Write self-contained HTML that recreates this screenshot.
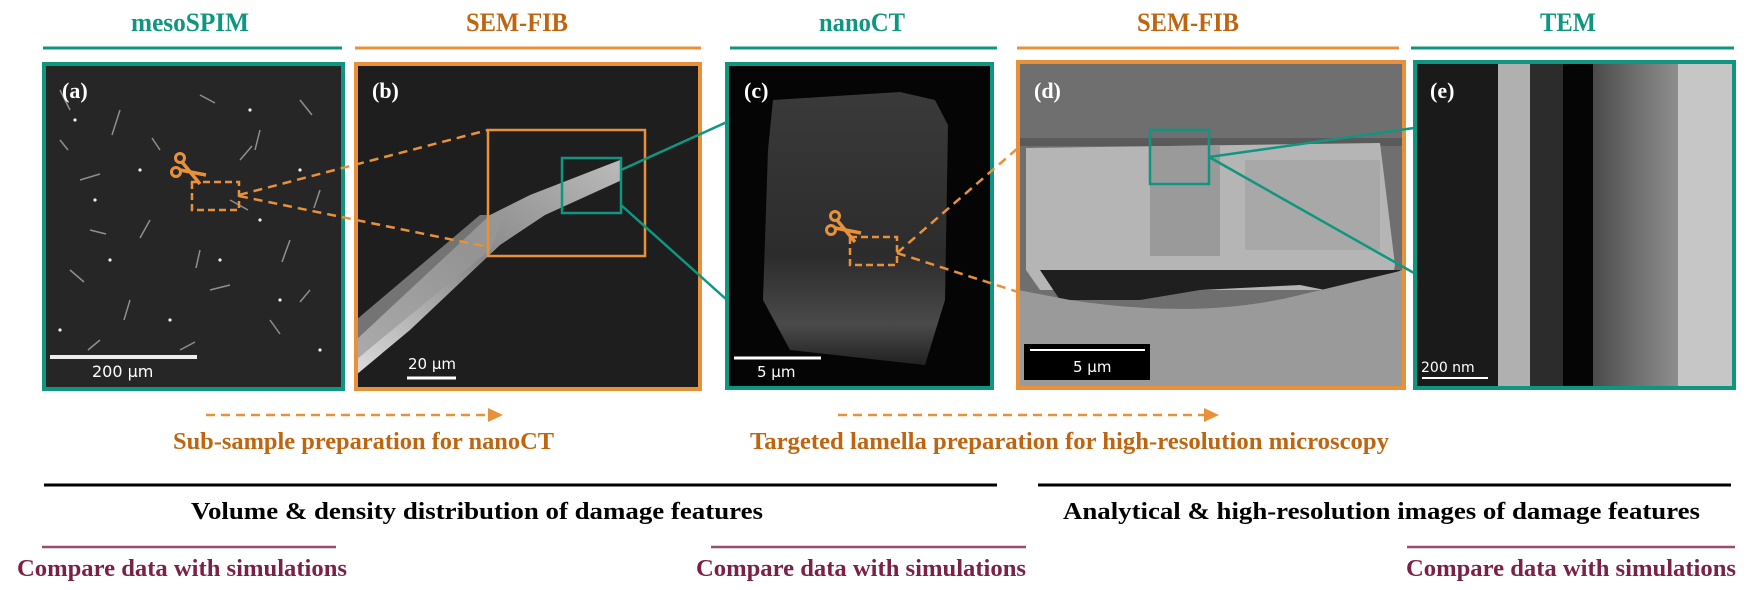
<!DOCTYPE html>
<html><head><meta charset="utf-8"><style>
html,body{margin:0;padding:0;background:#fff;}
svg{display:block}
text{font-family:"Liberation Serif",serif;font-weight:bold}
</style></head><body>
<svg width="1759" height="590" viewBox="0 0 1759 590" xmlns="http://www.w3.org/2000/svg">
<defs>
<linearGradient id="gE" x1="0" x2="1" y1="0" y2="0"><stop offset="0" stop-color="#4a4a4a"/><stop offset="0.5" stop-color="#6e6e6e"/><stop offset="1" stop-color="#8e8e8e"/></linearGradient>
<linearGradient id="gC" x1="0" x2="0" y1="0" y2="1"><stop offset="0" stop-color="#3a3a3a"/><stop offset="0.6" stop-color="#2c2c2c"/><stop offset="0.85" stop-color="#4a4a4a"/><stop offset="1" stop-color="#222"/></linearGradient>
<linearGradient id="gB" x1="0" x2="1" y1="1" y2="0"><stop offset="0" stop-color="#ddd"/><stop offset="0.5" stop-color="#888"/><stop offset="1" stop-color="#bbb"/></linearGradient>
<g id="sc" fill="none" stroke="#e8913a" stroke-width="3"><circle cx="-10" cy="-12" r="4.5"/><circle cx="-14" cy="2" r="4.5"/><path d="M-8,-8 L10,14 M-10,0 L16,5" stroke-width="3.5"/></g>
</defs>
<g font-size="26" text-anchor="middle">
<text x="190" y="31" fill="#0f9680" textLength="118" lengthAdjust="spacingAndGlyphs">mesoSPIM</text>
<text x="517" y="31" fill="#c0650f" textLength="102" lengthAdjust="spacingAndGlyphs">SEM-FIB</text>
<text x="862" y="31" fill="#0f9680" textLength="86" lengthAdjust="spacingAndGlyphs">nanoCT</text>
<text x="1188" y="31" fill="#c0650f" textLength="102" lengthAdjust="spacingAndGlyphs">SEM-FIB</text>
<text x="1568" y="31" fill="#0f9680" textLength="56" lengthAdjust="spacingAndGlyphs">TEM</text>
</g>
<g stroke-width="3">
<line x1="43" y1="48" x2="342" y2="48" stroke="#0f9680"/>
<line x1="355" y1="48" x2="701" y2="48" stroke="#e8913a"/>
<line x1="730" y1="48" x2="997" y2="48" stroke="#0f9680"/>
<line x1="1017" y1="48" x2="1399" y2="48" stroke="#e8913a"/>
<line x1="1411" y1="48" x2="1734" y2="48" stroke="#0f9680"/>
</g>
<rect x="44" y="64" width="299" height="325" fill="#262626"/>
<g stroke="#bbb" stroke-width="1.5" opacity="0.7">
<path d="M60,90 l10,20 M120,110 l-8,25 M200,95 l15,8 M260,130 l-5,20 M300,100 l12,15 M80,180 l20,-6 M150,220 l-10,18 M230,200 l18,10 M290,240 l-8,22 M70,270 l14,12 M130,300 l-6,20 M210,290 l20,-5 M270,320 l10,14 M100,340 l-12,10 M180,350 l15,-8 M320,190 l-6,18 M60,140 l8,10 M240,160 l12,-14 M160,150 l-8,-12 M310,290 l-10,12 M90,230 l16,4 M200,250 l-4,18"/>
</g>
<g fill="#eee"><circle cx="75" cy="120" r="1.6"/><circle cx="140" cy="170" r="1.6"/><circle cx="250" cy="110" r="1.6"/><circle cx="300" cy="170" r="1.6"/><circle cx="110" cy="260" r="1.6"/><circle cx="220" cy="260" r="1.6"/><circle cx="280" cy="300" r="1.6"/><circle cx="170" cy="320" r="1.6"/><circle cx="60" cy="330" r="1.6"/><circle cx="320" cy="350" r="1.6"/><circle cx="95" cy="200" r="1.6"/><circle cx="260" cy="220" r="1.6"/></g>
<rect x="44" y="64" width="299" height="325" fill="none" stroke="#0f9680" stroke-width="4"/>
<line x1="50" y1="357" x2="197" y2="357" stroke="#eee" stroke-width="4"/>
<text x="92" y="377" fill="#fff" font-size="16" style="font-family:'DejaVu Sans',sans-serif;font-weight:normal">200 µm</text>
<text x="62" y="98" fill="#fff" font-size="22">(a)</text>
<use href="#sc" x="190" y="170"/>
<rect x="192" y="182" width="47" height="28" fill="none" stroke="#e8913a" stroke-width="2.5" stroke-dasharray="7,4"/>
<rect x="356" y="64" width="344" height="325" fill="#1e1e1e"/>
<path d="M356,340 L490,215 L530,195 L620,160 L622,180 L545,215 L500,245 L410,330 L356,375 Z" fill="url(#gB)"/>
<path d="M356,320 L480,215 L505,215 L490,250 L380,340 L356,360 Z" fill="#999" opacity="0.7"/>
<rect x="488" y="130" width="157" height="126" fill="none" stroke="#e8913a" stroke-width="2.5"/>
<rect x="562" y="158" width="59" height="55" fill="none" stroke="#0f9680" stroke-width="2.5"/>
<rect x="356" y="64" width="344" height="325" fill="none" stroke="#e8913a" stroke-width="4"/>
<text x="372" y="98" fill="#fff" font-size="22">(b)</text>
<text x="408" y="369" fill="#fff" font-size="15" style="font-family:'DejaVu Sans',sans-serif;font-weight:normal">20 µm</text>
<line x1="407" y1="378" x2="456" y2="378" stroke="#fff" stroke-width="3"/>
<g stroke="#e8913a" stroke-width="2.5" stroke-dasharray="9,6" fill="none">
<line x1="239" y1="195" x2="488" y2="130"/><line x1="239" y1="196" x2="488" y2="247"/>
</g>
<rect x="727" y="64" width="265" height="324" fill="#050505"/>
<path d="M773,100 L900,92 L935,100 L948,125 L945,300 L925,365 L790,350 L763,300 L768,150 Z" fill="url(#gC)"/>
<rect x="727" y="64" width="265" height="324" fill="none" stroke="#0f9680" stroke-width="4"/>
<text x="744" y="98" fill="#fff" font-size="22">(c)</text>
<line x1="734" y1="358" x2="821" y2="358" stroke="#fff" stroke-width="3"/>
<text x="757" y="377" fill="#fff" font-size="15" style="font-family:'DejaVu Sans',sans-serif;font-weight:normal">5 µm</text>
<use href="#sc" x="845" y="228"/>
<rect x="850" y="237" width="47" height="28" fill="none" stroke="#e8913a" stroke-width="2.5" stroke-dasharray="7,4"/>
<g stroke="#0f9680" stroke-width="2.5"><line x1="621" y1="170" x2="727" y2="122"/><line x1="621" y1="205" x2="727" y2="300"/></g>
<g stroke="#e8913a" stroke-width="2.5" stroke-dasharray="9,6" fill="none"><line x1="897" y1="253" x2="1018" y2="148"/><line x1="897" y1="253" x2="1018" y2="292"/></g>
<rect x="1018" y="64" width="386" height="324" fill="#6f6f6f"/>
<rect x="1018" y="138" width="386" height="8" fill="#5a5a5a"/>
<path d="M1026,148 L1380,143 L1395,265 L1390,290 L1040,290 L1026,270 Z" fill="#b5b5b5"/>
<rect x="1150" y="146" width="70" height="110" fill="#9a9a9a"/>
<rect x="1245" y="160" width="135" height="90" fill="#a8a8a8"/>
<path d="M1040,270 L1400,270 L1400,305 L1300,285 L1200,290 L1140,300 L1060,300 Z" fill="#1f1f1f"/>
<path d="M1018,290 L1070,300 Q1200,320 1300,295 L1404,270 L1404,388 L1018,388 Z" fill="#9a9a9a"/>
<rect x="1150" y="130" width="59" height="54" fill="none" stroke="#0f9680" stroke-width="2.5"/>
<rect x="1024" y="344" width="126" height="36" fill="#000"/>
<line x1="1030" y1="350" x2="1145" y2="350" stroke="#fff" stroke-width="2"/>
<text x="1073" y="372" fill="#fff" font-size="15" style="font-family:'DejaVu Sans',sans-serif;font-weight:normal">5 µm</text>
<rect x="1018" y="62" width="386" height="326" fill="none" stroke="#e8913a" stroke-width="4"/>
<text x="1034" y="98" fill="#fff" font-size="22">(d)</text>
<g stroke="#0f9680" stroke-width="2.5"><line x1="1209" y1="157" x2="1414" y2="128"/><line x1="1209" y1="157" x2="1414" y2="273"/></g>
<rect x="1414" y="64" width="320" height="324" fill="#1a1a1a"/>
<rect x="1498" y="64" width="32" height="324" fill="#b0b0b0"/>
<rect x="1530" y="64" width="33" height="324" fill="#2c2c2c"/>
<rect x="1563" y="64" width="30" height="324" fill="#050505"/>
<rect x="1593" y="64" width="85" height="324" fill="url(#gE)"/>
<rect x="1678" y="64" width="56" height="324" fill="#c6c6c6"/>
<rect x="1415" y="62" width="319" height="326" fill="none" stroke="#0f9680" stroke-width="4"/>
<text x="1430" y="98" fill="#fff" font-size="22">(e)</text>
<text x="1421" y="372" fill="#fff" font-size="14" style="font-family:'DejaVu Sans',sans-serif;font-weight:normal">200 nm</text>
<line x1="1422" y1="378" x2="1488" y2="378" stroke="#fff" stroke-width="2"/>
<g stroke="#e8913a" stroke-width="2.5" stroke-dasharray="9,6"><line x1="206" y1="415" x2="490" y2="415"/><line x1="838" y1="415" x2="1206" y2="415"/></g>
<path d="M488,408 L503,415 L488,422 Z M1204,408 L1219,415 L1204,422 Z" fill="#e8913a"/>
<g font-size="24" fill="#c0650f">
<text x="173" y="449" textLength="381" lengthAdjust="spacingAndGlyphs">Sub-sample preparation for nanoCT</text>
<text x="750" y="449" textLength="639" lengthAdjust="spacingAndGlyphs">Targeted lamella preparation for high-resolution microscopy</text>
</g>
<g stroke="#000" stroke-width="3"><line x1="44" y1="485" x2="997" y2="485"/><line x1="1038" y1="485" x2="1731" y2="485"/></g>
<g font-size="24" fill="#000">
<text x="191" y="519" textLength="572" lengthAdjust="spacingAndGlyphs">Volume &amp; density distribution of damage features</text>
<text x="1063" y="519" textLength="637" lengthAdjust="spacingAndGlyphs">Analytical &amp; high-resolution images of damage features</text>
</g>
<g stroke="#9b4a72" stroke-width="2.5"><line x1="42" y1="547" x2="336" y2="547"/><line x1="711" y1="547" x2="1026" y2="547"/><line x1="1407" y1="547" x2="1735" y2="547"/></g>
<g font-size="24" fill="#7b2148">
<text x="17" y="576" textLength="330" lengthAdjust="spacingAndGlyphs">Compare data with simulations</text>
<text x="696" y="576" textLength="330" lengthAdjust="spacingAndGlyphs">Compare data with simulations</text>
<text x="1406" y="576" textLength="330" lengthAdjust="spacingAndGlyphs">Compare data with simulations</text>
</g>
</svg>
</body></html>
